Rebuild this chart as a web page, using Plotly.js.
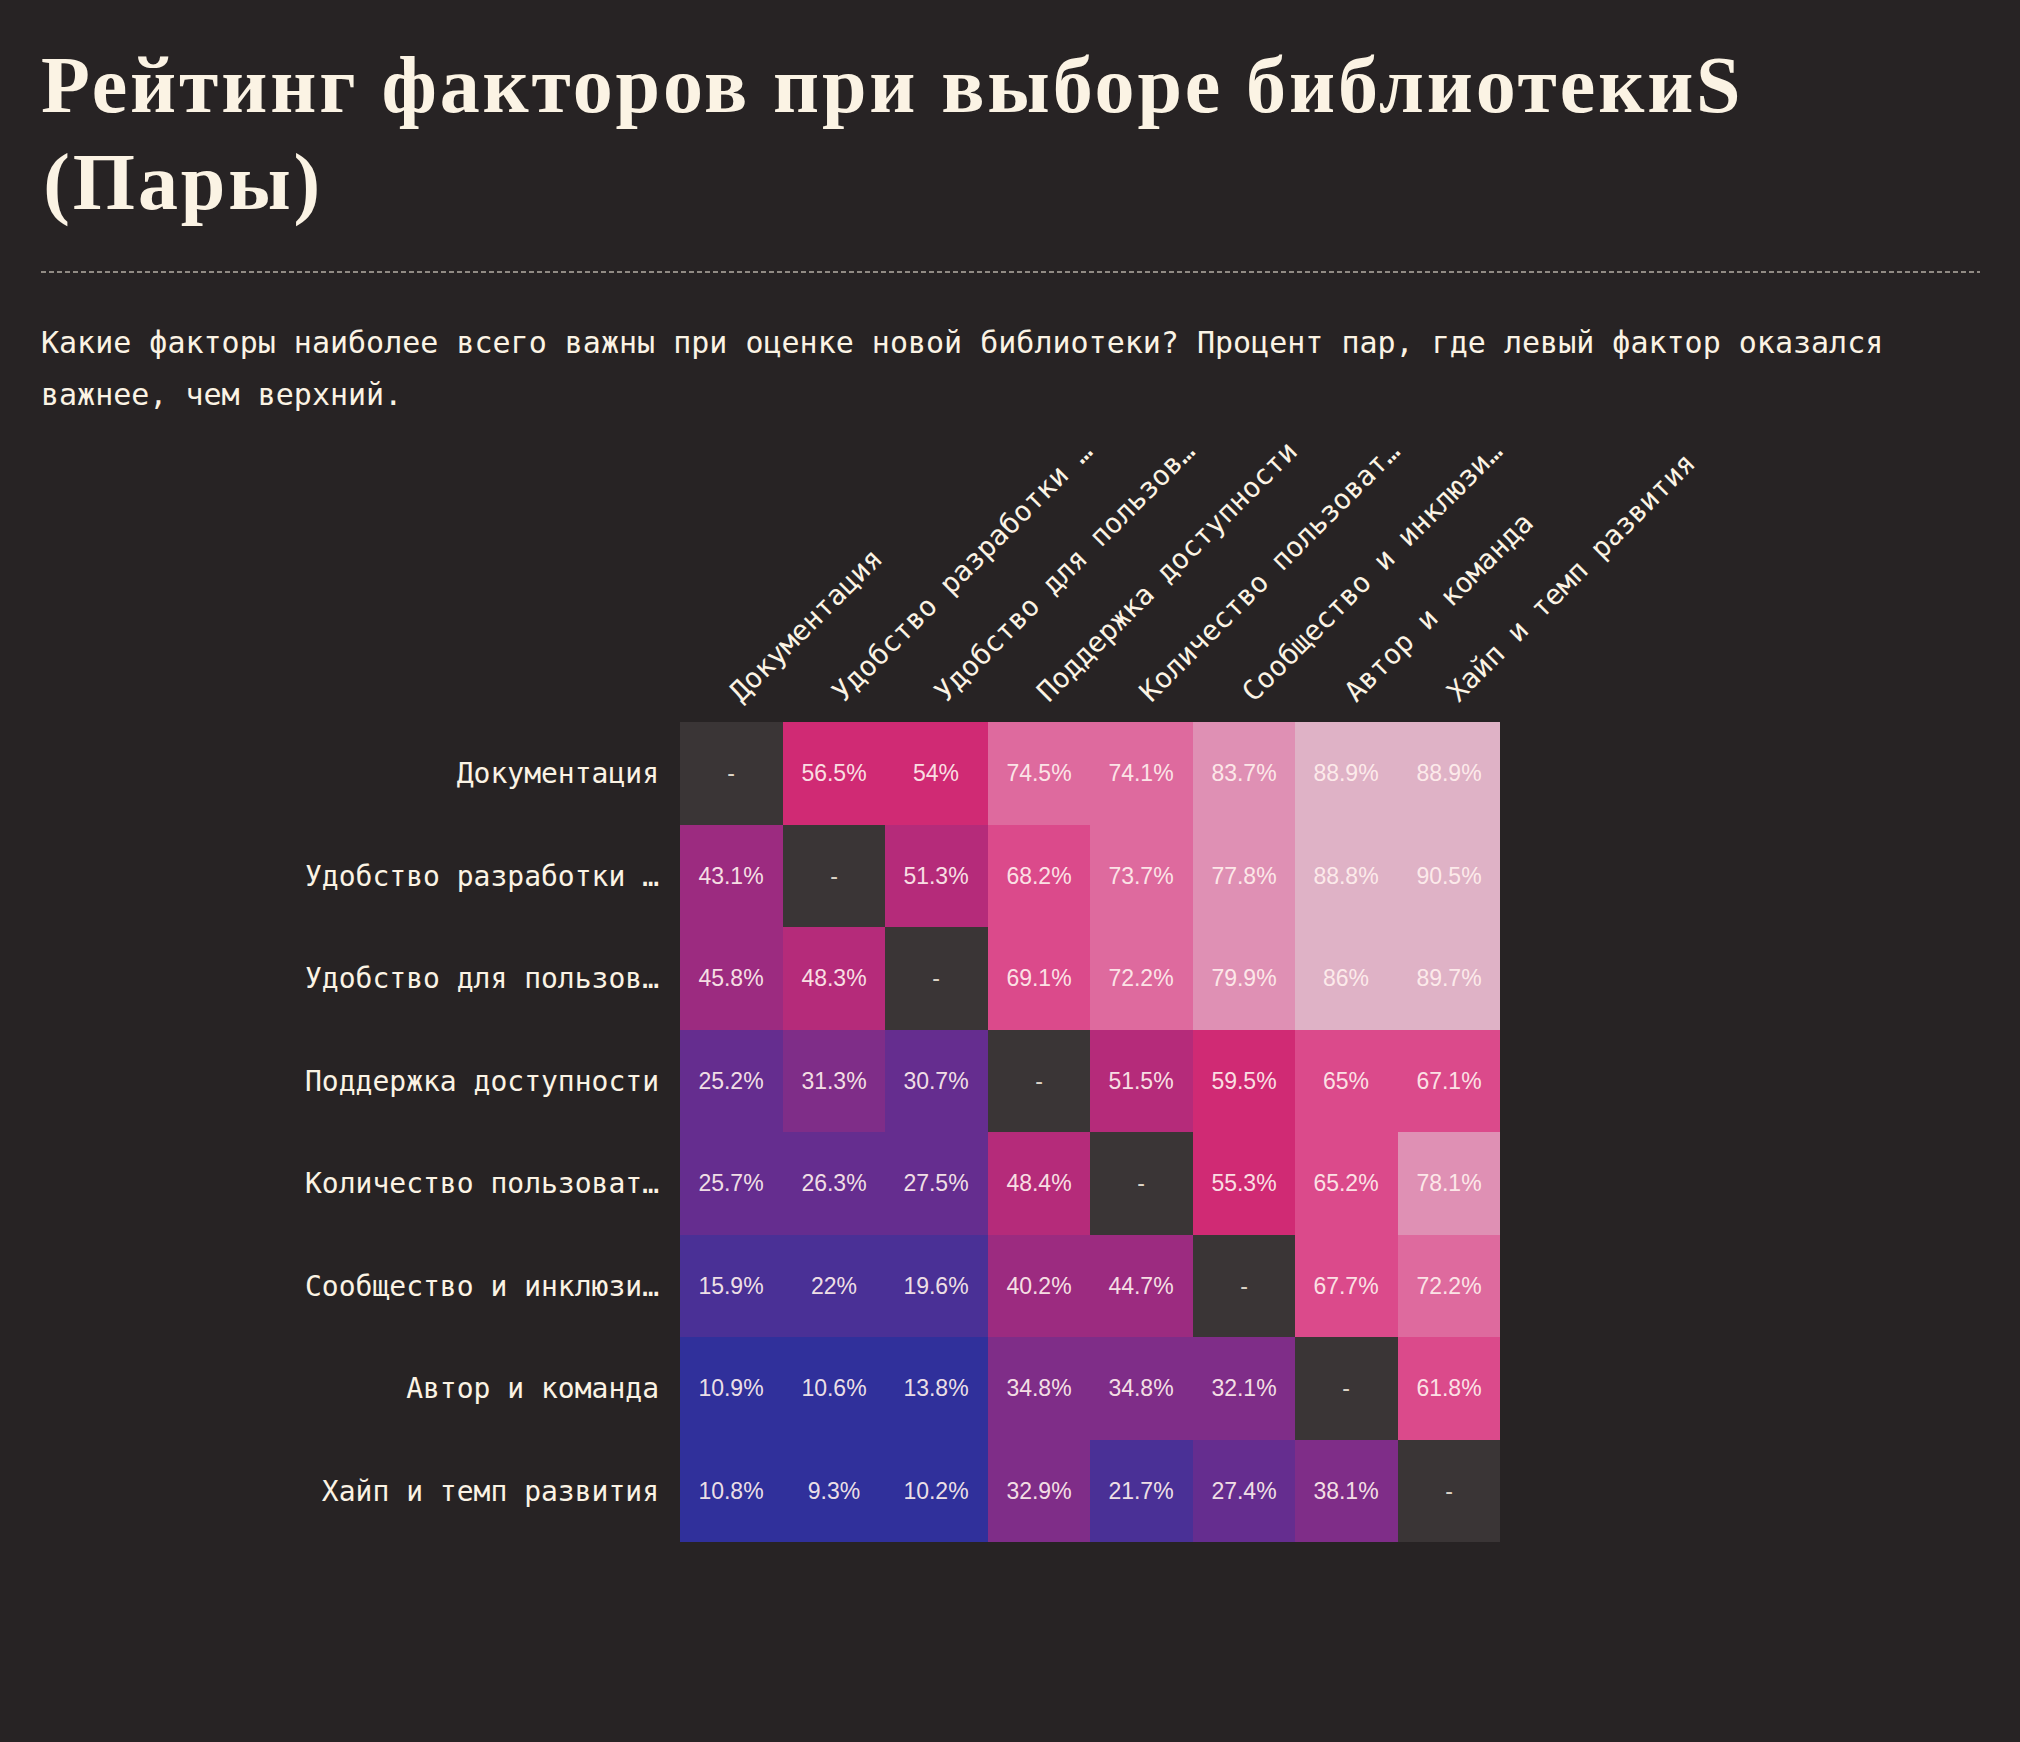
<!DOCTYPE html>
<html>
<head>
<meta charset="utf-8">
<script src="https://cdn.plot.ly/plotly-3.0.1.min.js"></script>
<style>
  html, body { margin: 0; padding: 0; background: #272324; }
  #chart { width: 2020px; height: 1742px; }
</style>
</head>
<body>
<div id="chart"></div>
<script>
// ---- Data ----
const titleLine1 = 'Рейтинг факторов при выборе библиотекиS';
const titleLine2 = '(Пары)';
const subtitleLine1 = 'Какие факторы наиболее всего важны при оценке новой библиотеки? Процент пар, где левый фактор оказался';
const subtitleLine2 = 'важнее, чем верхний.';

const factors = [
  'Документация',
  'Удобство разработки …',
  'Удобство для пользов…',
  'Поддержка доступности',
  'Количество пользоват…',
  'Сообщество и инклюзи…',
  'Автор и команда',
  'Хайп и темп развития'
];

// percent of pairs where row factor was more important than column factor
const rowDocs    = [null, 56.5, 54,   74.5, 74.1, 83.7, 88.9, 88.9];
const rowDevUx   = [43.1, null, 51.3, 68.2, 73.7, 77.8, 88.8, 90.5];
const rowUserUx  = [45.8, 48.3, null, 69.1, 72.2, 79.9, 86,   89.7];
const rowA11y    = [25.2, 31.3, 30.7, null, 51.5, 59.5, 65,   67.1];
const rowUsers   = [25.7, 26.3, 27.5, 48.4, null, 55.3, 65.2, 78.1];
const rowCommun  = [15.9, 22,   19.6, 40.2, 44.7, null, 67.7, 72.2];
const rowAuthor  = [10.9, 10.6, 13.8, 34.8, 34.8, 32.1, null, 61.8];
const rowHype    = [10.8, 9.3,  10.2, 32.9, 21.7, 27.4, 38.1, null];
const pct = [rowDocs, rowDevUx, rowUserUx, rowA11y, rowUsers, rowCommun, rowAuthor, rowHype];

// colour bins (threshold scale)
const binEdges  = [15, 25, 31, 40, 47, 53, 60, 70, 76, 85];
const binColors = ['#30309b', '#4a3096', '#652d8f', '#7f2d88', '#9c2b80', '#b52b7a',
                   '#d02a74', '#db4a8b', '#de6a9e', '#df90b4', '#dfb2c6'];

// ---- Styling / layout helpers ----
const W = 2020, H = 1742;
const M = { l: 680, r: 520, t: 722, b: 200 };
const PW = W - M.l - M.r, PH = H - M.t - M.b;
const px2x = p => (p - M.l) / PW;
const py2y = p => (H - M.b - p) / PH;

const BG = '#272324';
const CREAM = '#fbf3e4';
const DIAG = '#3a3536';
const TITLE_LS = 2.9;

const colorscale = [];
let lo = 0;
binColors.forEach((c, i) => {
  const hi = i < binEdges.length ? binEdges[i] : 100;
  colorscale.push([lo / 100, c]);
  colorscale.push([hi / 100, c]);
  lo = hi;
});

const cellText = pct.map(r => r.map(v => v == null ? '' : v + '%'));
const diagZ = pct.map((r, i) => r.map((v, j) => i === j ? 1 : null));
const diagText = pct.map((r, i) => r.map((v, j) => i === j ? '-' : ''));

const cellFont = { family: 'Liberation Sans, Arial, sans-serif', size: 23, color: 'rgba(255,240,238,0.93)' };

const traces = [
  {
    type: 'heatmap',
    x: factors, y: factors, z: pct,
    zmin: 0, zmax: 100,
    colorscale: colorscale,
    showscale: false,
    text: cellText,
    texttemplate: '%{text}',
    textfont: cellFont,
    hoverongaps: false,
    xgap: 0, ygap: 0
  },
  {
    type: 'heatmap',
    x: factors, y: factors, z: diagZ,
    zmin: 0, zmax: 1,
    colorscale: [[0, DIAG], [1, DIAG]],
    showscale: false,
    text: diagText,
    texttemplate: '%{text}',
    textfont: { family: 'Liberation Sans, Arial, sans-serif', size: 23, color: 'rgba(245,236,222,0.9)' },
    hoverongaps: false
  }
];

const monoFont = 'DejaVu Sans Mono, Liberation Mono, monospace';

const layout = {
  width: W, height: H,
  margin: M,
  paper_bgcolor: BG,
  plot_bgcolor: DIAG,
  showlegend: false,
  title: {
    text: titleLine1,
    x: 41 / W, xref: 'container', xanchor: 'left',
    y: 1 - 84 / H, yref: 'container', yanchor: 'middle',
    font: { family: 'Liberation Serif, Times New Roman, serif', size: 80, weight: 700, color: CREAM }
  },
  xaxis: {
    side: 'top',
    type: 'category',
    tickangle: -45,
    ticks: '',
    ticklabelstandoff: 8,
    showgrid: false, zeroline: false, showline: false,
    tickfont: { family: monoFont, size: 28, color: CREAM },
    fixedrange: true
  },
  yaxis: {
    type: 'category',
    autorange: 'reversed',
    ticks: '',
    ticklabelstandoff: 20,
    showgrid: false, zeroline: false, showline: false,
    tickfont: { family: monoFont, size: 28, color: CREAM },
    fixedrange: true
  },
  shapes: [
    {
      type: 'line', xref: 'paper', yref: 'paper',
      x0: px2x(41), x1: px2x(1980), y0: py2y(272), y1: py2y(272),
      line: { color: CREAM, width: 1.2, dash: '5px,3px' }
    }
  ],
  annotations: [
    {
      text: titleLine2, showarrow: false,
      xref: 'paper', yref: 'paper', x: px2x(41 + titleLine2.length * TITLE_LS / 2), y: py2y(182),
      xanchor: 'left', yanchor: 'middle',
      font: { family: 'Liberation Serif, Times New Roman, serif', size: 80, weight: 700, color: CREAM }
    },
    {
      text: subtitleLine1, showarrow: false,
      xref: 'paper', yref: 'paper', x: px2x(39), y: py2y(342),
      xanchor: 'left', yanchor: 'middle',
      font: { family: monoFont, size: 30, color: CREAM }
    },
    {
      text: subtitleLine2, showarrow: false,
      xref: 'paper', yref: 'paper', x: px2x(39), y: py2y(394),
      xanchor: 'left', yanchor: 'middle',
      font: { family: monoFont, size: 30, color: CREAM }
    }
  ]
};

Plotly.newPlot('chart', traces, layout, { displayModeBar: false, staticPlot: true }).then(() => {
  document.querySelectorAll('.gtitle').forEach(t => { t.style.letterSpacing = TITLE_LS + 'px'; });
  const ann = document.querySelectorAll('.annotation-text');
  if (ann[0]) ann[0].style.letterSpacing = TITLE_LS + 'px';
});
</script>
</body>
</html>
